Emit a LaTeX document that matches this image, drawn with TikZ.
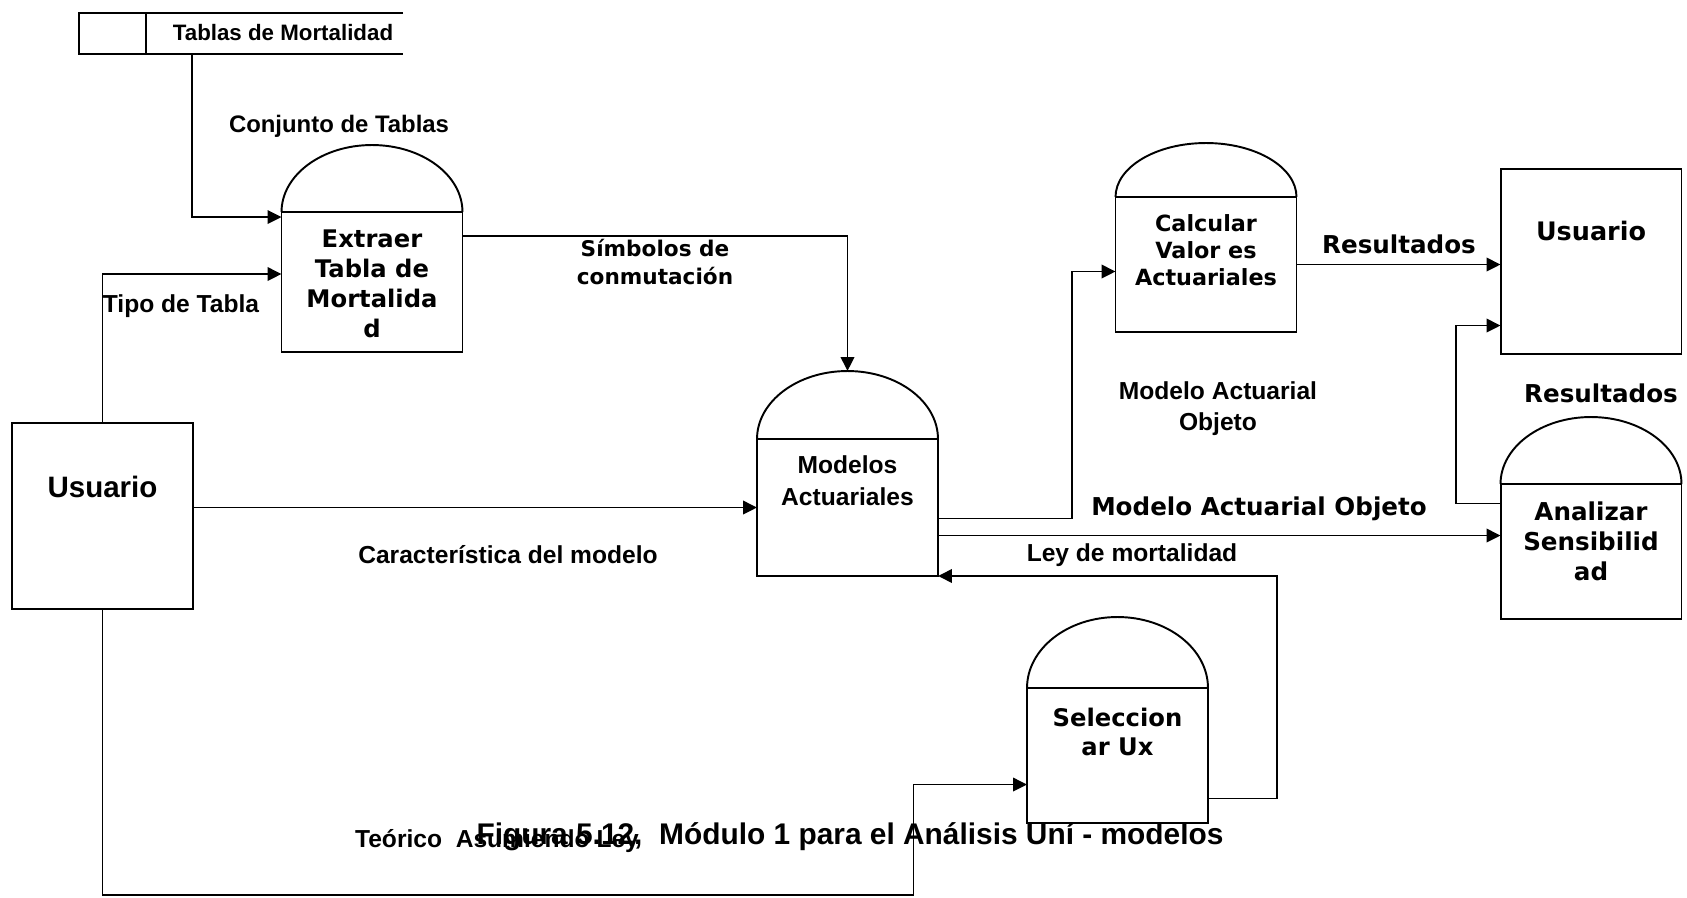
\documentclass[tikz,border=0pt]{standalone}
\usepackage{fontspec}
\setmainfont{Liberation Sans}
\newfontfamily\verdfont{DejaVu Sans}
\usetikzlibrary{arrows.meta,positioning,calc}
\newcommand{\fsz}[2]{\fontsize{#1}{#2}\selectfont}

\begin{document}
\begin{tikzpicture}[x=0.02cm, y=-0.02cm, >={Triangle[length=0.28cm,width=0.27cm]}, line width=1.1pt]
  \tikzstyle{caja}=[draw, rectangle, minimum width=3.62cm, inner sep=0pt, outer sep=0pt]
  \tikzstyle{flujo}=[->]
  \tikzstyle{arial}=[font=\bfseries\fsz{14}{17.6}, align=center]
  \tikzstyle{verd}=[font=\verdfont\bfseries\fsz{14}{17}, align=center]
  \tikzstyle{dentro}=[anchor=center, align=center]

  \fill[white] (0,0) rectangle (1687,897);
  \useasboundingbox (0,0) rectangle (1687,897);

  % almacen de datos
  \node[arial, font=\bfseries\fsz{12.7}{15}] (tablas) at (283,33) {Tablas de Mortalidad};
  \draw (403,13) -- (79,13) -- (79,54) -- (403,54);
  \draw (146,13) -- (146,54);
  \coordinate (tsal) at (192,54);

  % entidades externas
  \node[caja, minimum height=3.72cm, label={[dentro, arial, font=\bfseries\fsz{16.8}{20}, yshift=-1.28cm]90:Usuario}] (usu1) at (102.5,516) {};
  \node[caja, minimum height=3.7cm, label={[dentro, verd, font=\verdfont\bfseries\fsz{14.5}{17}, yshift=-1.24cm]90:Usuario}] (usu2) at (1591,261.5) {};

  % procesos
  \node[caja, minimum height=2.8cm, label={[dentro, verd, font=\verdfont\bfseries\fsz{13.8}{17}, yshift=-1.44cm]90:Extraer\\Tabla de\\Mortalida\\d}] (extraer) at (372,282) {};
  \node[caja, minimum height=2.74cm, label={[dentro, arial, font=\bfseries\fsz{14}{18.2}, yshift=-0.84cm]90:Modelos\\Actuariales}] (modelos) at (847.5,507.5) {};
  \node[caja, minimum height=2.7cm, label={[dentro, verd, font=\verdfont\bfseries\fsz{12.7}{15.4}, yshift=-1.07cm]90:Calcular\\Valor es\\Actuariales}] (calc) at (1206,264.5) {};
  \node[caja, minimum height=2.7cm, label={[dentro, verd, font=\verdfont\bfseries\fsz{13.8}{17}, yshift=-0.88cm]90:Seleccion\\ar Ux}] (selec) at (1117.5,755.5) {};
  \node[caja, minimum height=2.7cm, label={[dentro, verd, yshift=-1.14cm]90:Analizar\\Sensibilid\\ad}] (anal) at (1591,551.5) {};

  \foreach \n/\h in {extraer/67, modelos/68, calc/54, selec/71, anal/67}{
    \draw (\n.north west) arc[start angle=180, end angle=0, x radius=1.81cm, y radius=\h*0.02cm];
    \coordinate (\n-top) at ($(\n.north)+(0,-\h)$);
  }

  % flujos
  \draw[flujo] (tsal) |- ($(extraer.north west)+(0,5)$);
  \draw[flujo] (usu1.north) |- ($(extraer.west)+(0,-8)$);
  \draw[flujo] ($(extraer.north east)+(0,24)$) -| (modelos-top);
  \draw[flujo] (usu1.east |- modelos.west) -- (modelos.west);
  \draw[flujo] ($(modelos.east)+(0,11)$) -- ++(134,0) |- ($(calc.west)+(0,7)$);
  \draw[flujo] ($(modelos.east)+(0,28)$) coordinate (m2) -- (m2 -| anal.west);
  \draw[flujo] ($(selec.east)+(0,43)$) -- ++(69,0) |- (modelos.south east);
  \draw[flujo] (usu1.south) -- ++(0,286) -- ++(811,0) |- ($(selec.west)+(0,29)$);
  \draw[flujo] (calc.east) -- (calc.east -| usu2.west);
  \draw[flujo] ($(anal.west)+(0,-48)$) -- ++(-45,0) |- ($(usu2.west)+(0,64)$);

  % etiquetas
  \node[arial, font=\bfseries\fsz{13.6}{16}] (conj) at (339,126) {Conjunto de Tablas};
  \node[arial] (tipo) at (181,306) {Tipo de Tabla};
  \node[verd, font=\verdfont\bfseries\fsz{12.3}{16.5}] (simb) at (655,262) {Símbolos de\\conmutación};
  \node[arial] (carac) at (508,555) {Característica del modelo};
  \node[arial] (mao1) at (1218,409) {Modelo Actuarial\\Objeto};
  \node[verd] (mao2) at (1259,509) {Modelo Actuarial Objeto};
  \node[arial] (ley) at (1132,555) {Ley de mortalidad};
  \node[verd] (res1) at (1399,244) {Resultados};
  \node[verd] (res2) at (1601,393) {Resultados};
  \node[arial] (teo) at (497,841) {Teórico\ \ Asumiendo Ley};
  \node[arial, font=\bfseries\fsz{17}{20}] (fig) at (850,837) {Figura 5.12,\ \ Módulo 1 para el Análisis Uní - modelos};
\end{tikzpicture}
\end{document}
